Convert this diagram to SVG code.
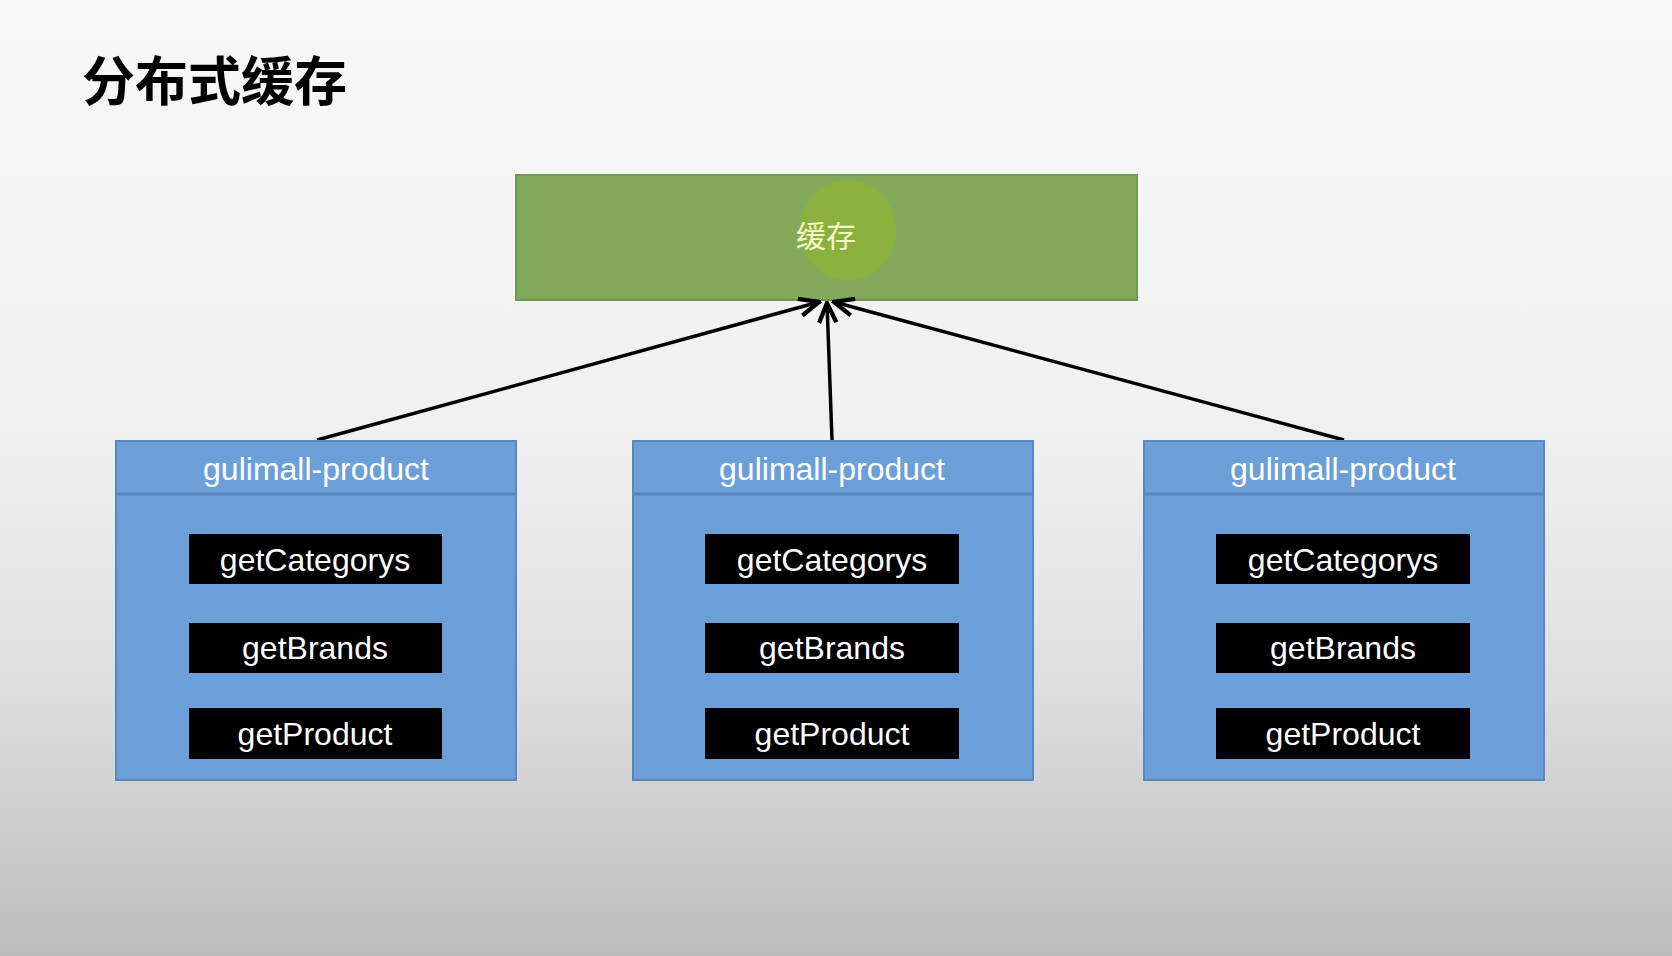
<svg xmlns="http://www.w3.org/2000/svg" width="1672" height="956" viewBox="0 0 1672 956">
<defs>
<linearGradient id="bg" x1="0" y1="0" x2="0" y2="1">
<stop offset="0" stop-color="#f8f8f8"/>
<stop offset="0.45" stop-color="#f0f0f0"/>
<stop offset="0.7" stop-color="#e0e0e0"/>
<stop offset="0.85" stop-color="#cfcfcf"/>
<stop offset="1" stop-color="#bcbcbc"/>
</linearGradient>
<marker id="arr" viewBox="0 0 20 20" refX="18" refY="10" markerWidth="7" markerHeight="7" orient="auto" markerUnits="strokeWidth">
<path d="M2,3 L18,10 L2,17" fill="none" stroke="#000" stroke-width="3.5"/>
</marker>
<style>
.svc{fill:#6c9fd8;stroke:#5a87bf;stroke-width:2}
.sep{stroke:#5a87bf;stroke-width:3}
.hdr{font-family:"Liberation Sans",Arial,sans-serif;font-size:32px;fill:#ffffff;text-anchor:middle}
.fn{fill:#000}
.fnt{font-family:"Liberation Sans",Arial,sans-serif;font-size:32px;fill:#ffffff;text-anchor:middle}
.conn{stroke:#000;stroke-width:3.5;fill:none}
</style>
</defs>
<rect x="0" y="0" width="1672" height="956" fill="url(#bg)"/>
<text x="82" y="101" font-family="'Noto Sans CJK SC',sans-serif" font-size="53" font-weight="bold" fill="#000">分布式缓存</text>

<g id="cache">
<rect x="516" y="175" width="621" height="125" fill="#82aa5a" stroke="#6f9a4a" stroke-width="2"/>
<ellipse cx="848" cy="230" rx="48" ry="50" fill="#8fb236" opacity="0.8"/>
<text x="826" y="247" font-family="'Noto Sans CJK SC',sans-serif" font-size="30" fill="#f4f8c8" text-anchor="middle">缓存</text>
</g>

<g id="connectors">
<line class="conn" x1="317" y1="440" x2="819" y2="302" marker-end="url(#arr)"/>
<line class="conn" x1="832" y1="440" x2="827" y2="303" marker-end="url(#arr)"/>
<line class="conn" x1="1344" y1="440" x2="834" y2="302" marker-end="url(#arr)"/>
</g>

<g id="svc1">
<rect class="svc" x="116" y="441" width="400" height="339"/>
<line class="sep" x1="117" y1="494" x2="515" y2="494"/>
<text class="hdr" x="316" y="480">gulimall-product</text>
<rect class="fn" x="189" y="534" width="253" height="50"/>
<text class="fnt" x="315" y="571">getCategorys</text>
<rect class="fn" x="189" y="623" width="253" height="50"/>
<text class="fnt" x="315" y="659">getBrands</text>
<rect class="fn" x="189" y="708" width="253" height="51"/>
<text class="fnt" x="315" y="745">getProduct</text>
</g>

<g id="svc2">
<rect class="svc" x="633" y="441" width="400" height="339"/>
<line class="sep" x1="634" y1="494" x2="1032" y2="494"/>
<text class="hdr" x="832" y="480">gulimall-product</text>
<rect class="fn" x="705" y="534" width="254" height="50"/>
<text class="fnt" x="832" y="571">getCategorys</text>
<rect class="fn" x="705" y="623" width="254" height="50"/>
<text class="fnt" x="832" y="659">getBrands</text>
<rect class="fn" x="705" y="708" width="254" height="51"/>
<text class="fnt" x="832" y="745">getProduct</text>
</g>

<g id="svc3">
<rect class="svc" x="1144" y="441" width="400" height="339"/>
<line class="sep" x1="1145" y1="494" x2="1543" y2="494"/>
<text class="hdr" x="1343" y="480">gulimall-product</text>
<rect class="fn" x="1216" y="534" width="254" height="50"/>
<text class="fnt" x="1343" y="571">getCategorys</text>
<rect class="fn" x="1216" y="623" width="254" height="50"/>
<text class="fnt" x="1343" y="659">getBrands</text>
<rect class="fn" x="1216" y="708" width="254" height="51"/>
<text class="fnt" x="1343" y="745">getProduct</text>
</g>
</svg>
